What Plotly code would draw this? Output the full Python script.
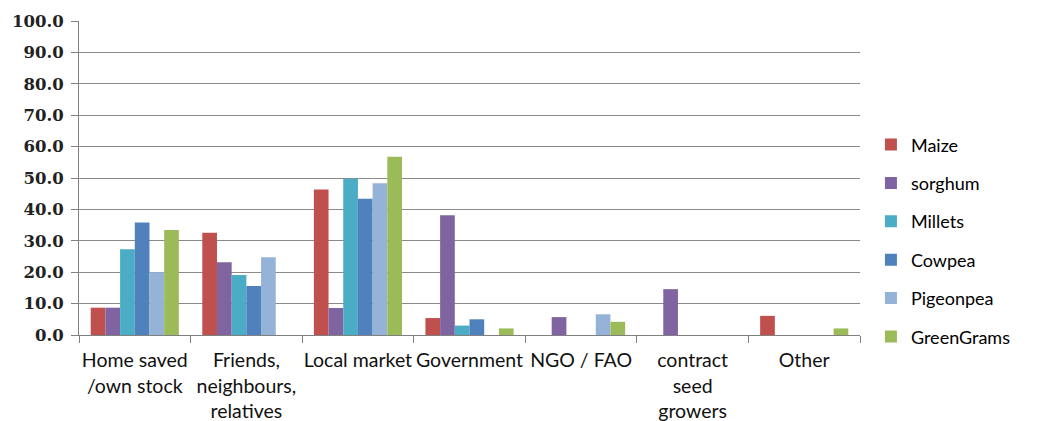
import plotly.graph_objects as go

categories = [
    "Home saved<br>/own stock",
    "Friends,<br>neighbours,<br>relatives",
    "Local market",
    "Government",
    "NGO / FAO",
    "contract<br>seed<br>growers",
    "Other",
]

maize = [8.7, 32.6, 46.3, 5.4, 0.0, 0.0, 6.1]
sorghum = [8.7, 23.2, 8.6, 38.1, 5.7, 14.6, 0.0]
millets = [27.3, 19.1, 49.8, 3.0, 0.0, 0.0, 0.0]
cowpea = [35.8, 15.6, 43.4, 5.0, 0.0, 0.0, 0.0]
pigeonpea = [20.0, 24.8, 48.3, 0.0, 6.6, 0.0, 0.0]
greengrams = [33.4, 0.0, 56.8, 2.1, 4.2, 0.0, 2.1]

series = [
    ("Maize", maize, "#C0504D"),
    ("sorghum", sorghum, "#8064A2"),
    ("Millets", millets, "#4BACC6"),
    ("Cowpea", cowpea, "#4F81BD"),
    ("Pigeonpea", pigeonpea, "#95B3D7"),
    ("GreenGrams", greengrams, "#9BBB59"),
]

y_ticks = [0, 10, 20, 30, 40, 50, 60, 70, 80, 90, 100]

fig = go.Figure()
for name, vals, color in series:
    fig.add_trace(go.Bar(
        x=categories, y=vals, name=name, legendgroup=name,
        marker=dict(color=color, line=dict(width=0)),
    ))

fig.update_layout(
    width=1037, height=421,
    margin=dict(l=79, r=177, t=21, b=86, autoexpand=False),
    paper_bgcolor="white", plot_bgcolor="white",
    barmode="group", bargap=0.21, bargroupgap=0,
    showlegend=True,
    legend=dict(
        x=1.014, y=0.30, xanchor="left", yanchor="middle",
        font=dict(family="Lato", size=18, color="#000"),
        tracegroupgap=12, itemwidth=30,
        bgcolor="rgba(0,0,0,0)",
    ),
    xaxis=dict(
        type="category", automargin=False, tickangle=0,
        showline=True, linecolor="#808080", linewidth=1,
        ticks="outside", tickson="boundaries", ticklen=7, tickcolor="#808080",
        tickfont=dict(family="Lato", size=19.5, color="#111"),
        ticklabelstandoff=8,
        showgrid=False,
    ),
    yaxis=dict(
        range=[0, 100], tickvals=y_ticks, automargin=False,
        ticktext=[f"{v:.1f}" for v in y_ticks],
        showline=True, linecolor="#808080", linewidth=1,
        ticks="outside", ticklen=7, tickcolor="#808080",
        ticklabelstandoff=4,
        showgrid=True, gridcolor="#8a8a8a", gridwidth=1,
        tickfont=dict(family="DejaVu Serif", size=16.5, color="#222", weight="bold"),
        zeroline=False,
    ),
)

fig.write_html("out.html")
